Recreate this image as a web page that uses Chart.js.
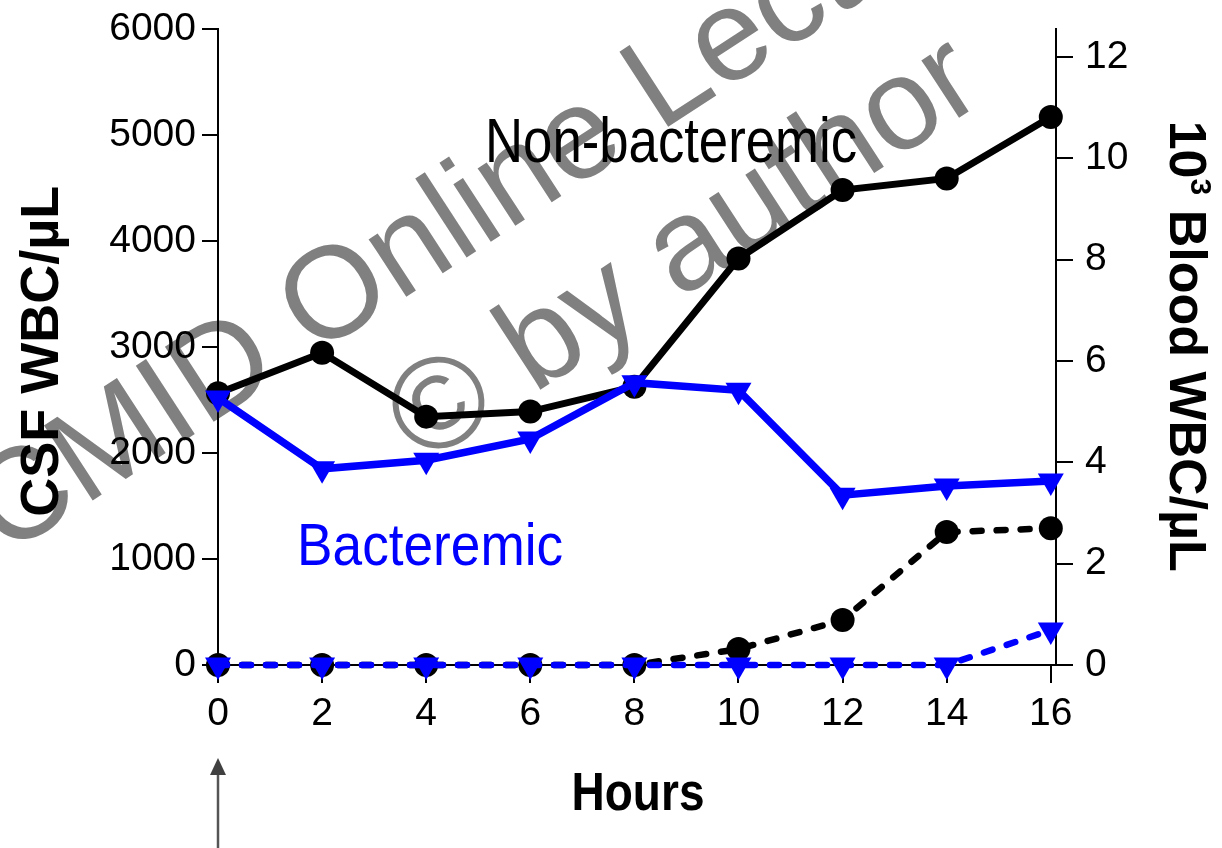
<!DOCTYPE html>
<html><head><meta charset="utf-8">
<script src="https://cdn.jsdelivr.net/npm/chart.js@4/dist/chart.umd.min.js"></script>
<style>html,body{margin:0;padding:0;background:#fff;overflow:hidden}</style>
</head><body>
<canvas id="c" width="1222" height="848" style="display:block;width:1222px;height:848px"></canvas>
<script>
// ---- data ----
const hours = [0, 2, 4, 6, 8, 10, 12, 14, 16];
const bloodNonBacteremic = [5.36, 6.16, 4.90, 5.00, 5.49, 8.02, 9.37, 9.60, 10.81]; // 10^3/µL (right axis)
const bloodBacteremic    = [5.27, 3.87, 4.04, 4.46, 5.57, 5.42, 3.35, 3.53, 3.63];   // 10^3/µL (right axis)
const csfNonBacteremic   = [0, 0, 0, 0, 0, 150, 425, 1255, 1290];                    // /µL (left axis)
const csfBacteremic      = [0, 0, 0, 0, 0, 0, 0, 0, 330];                             // /µL (left axis)
const xTicks = [0, 2, 4, 6, 8, 10, 12, 14, 16];
const csfTicks = [0, 1000, 2000, 3000, 4000, 5000, 6000];
const bloodTicks = [0, 2, 4, 6, 8, 10, 12];
const xTitle = 'Hours';
const leftTitle = 'CSF WBC/µL';
const rightTitleBase = '10', rightTitleSup = '3', rightTitleRest = ' Blood WBC/µL';
const labelNonBact = 'Non-bacteremic';
const labelBact = 'Bacteremic';
const watermark1 = 'ESCMID Online Lecture Library';
const watermark2 = '© by author';

// ---- styling / layout ----
const FONT = '"Liberation Sans", Arial, Helvetica, sans-serif';
const BLUE = '#0000ff';
const pts = arr => hours.map((h, i) => ({ x: h, y: arr[i] }));

function fitted(ctx, text, x, y, width, font, color) {
  ctx.save();
  ctx.font = font; ctx.fillStyle = color;
  ctx.textAlign = 'left'; ctx.textBaseline = 'alphabetic';
  const w = ctx.measureText(text).width;
  ctx.translate(x, y); ctx.scale(width / w, 1);
  ctx.fillText(text, 0, 0);
  ctx.restore();
}

const decor = {
  id: 'decor',
  beforeDraw(chart) {
    const ctx = chart.ctx;
    ctx.save();
    ctx.fillStyle = '#808080';
    ctx.font = '130px ' + FONT;
    ctx.textAlign = 'center'; ctx.textBaseline = 'alphabetic';
    ctx.translate(623, 156);
    ctx.rotate(-33 * Math.PI / 180);
    ctx.fillText(watermark1, 0, 0);
    ctx.fillText(watermark2, 0, 151);
    ctx.restore();
  },
  afterDatasetsDraw(chart) {
    const ctx = chart.ctx, sx = chart.scales.x, sy = chart.scales.y1;
    fitted(ctx, labelNonBact, sx.getPixelForValue(5.13), sy.getPixelForValue(9.92), 372, '63px ' + FONT, '#000');
    fitted(ctx, labelBact, sx.getPixelForValue(1.52), sy.getPixelForValue(1.97), 266, '60px ' + FONT, BLUE);
  },
  afterDraw(chart) {
    const ctx = chart.ctx, ca = chart.chartArea, sx = chart.scales.x;
    const cy = (ca.top + ca.bottom) / 2;
    // left title
    ctx.save();
    ctx.fillStyle = '#000'; ctx.font = 'bold 54px ' + FONT;
    ctx.textAlign = 'center'; ctx.textBaseline = 'alphabetic';
    ctx.translate(58, cy + 4); ctx.rotate(-Math.PI / 2);
    ctx.fillText(leftTitle, 0, 0);
    ctx.restore();
    // right title with superscript
    ctx.save();
    ctx.fillStyle = '#000';
    ctx.textAlign = 'left'; ctx.textBaseline = 'alphabetic';
    ctx.font = 'bold 52px ' + FONT; const w1 = ctx.measureText(rightTitleBase).width;
    const w3 = ctx.measureText(rightTitleRest).width;
    ctx.font = 'bold 30px ' + FONT; const w2 = ctx.measureText(rightTitleSup).width;
    const total = w1 + w2 + w3;
    ctx.translate(1170, cy - 1); ctx.rotate(Math.PI / 2);
    let x = -total / 2;
    ctx.font = 'bold 52px ' + FONT; ctx.fillText(rightTitleBase, x, 0); x += w1;
    ctx.font = 'bold 30px ' + FONT; ctx.fillText(rightTitleSup, x, -21); x += w2;
    ctx.font = 'bold 52px ' + FONT; ctx.fillText(rightTitleRest, x, 0);
    ctx.restore();
    // x title
    const hw = 133;
    fitted(ctx, xTitle, (ca.left + ca.right) / 2 - hw / 2 + 1, 810, hw, 'bold 53px ' + FONT, '#000');
    // arrow at time 0
    const ax = sx.getPixelForValue(0);
    ctx.save();
    ctx.strokeStyle = '#555'; ctx.lineWidth = 2.5;
    ctx.beginPath(); ctx.moveTo(ax, 848); ctx.lineTo(ax, 772); ctx.stroke();
    ctx.fillStyle = '#404040';
    ctx.beginPath(); ctx.moveTo(ax, 758); ctx.lineTo(ax + 8, 775); ctx.lineTo(ax - 8, 775); ctx.closePath(); ctx.fill();
    ctx.restore();
  }
};

const tickFont = { family: FONT, size: 39 };
const rightTickFont = { family: FONT, size: 39, lineHeight: 0.85 };
const lineDefaults = { tension: 0, clip: false, pointBorderWidth: 0 };
const plain = v => String(v);

new Chart(document.getElementById('c'), {
  type: 'line',
  data: {
    datasets: [
      Object.assign({}, lineDefaults, { label: 'Blood, bacteremic', data: pts(bloodBacteremic), yAxisID: 'y1',
        borderColor: BLUE, backgroundColor: BLUE, borderWidth: 7.5, pointStyle: 'triangle', rotation: 180,
        pointRadius: 15, pointHoverRadius: 15, order: 1 }),
      Object.assign({}, lineDefaults, { label: 'CSF, bacteremic', data: pts(csfBacteremic), yAxisID: 'y',
        borderColor: BLUE, backgroundColor: BLUE, borderWidth: 6.5, borderDash: [9, 15], borderCapStyle: 'round',
        pointStyle: 'triangle', rotation: 180, pointRadius: 15, pointHoverRadius: 15, order: 2 }),
      Object.assign({}, lineDefaults, { label: 'Blood, non-bacteremic', data: pts(bloodNonBacteremic), yAxisID: 'y1',
        borderColor: '#000', backgroundColor: '#000', borderWidth: 7, pointStyle: 'circle',
        pointRadius: 12, pointHoverRadius: 12, order: 3 }),
      Object.assign({}, lineDefaults, { label: 'CSF, non-bacteremic', data: pts(csfNonBacteremic), yAxisID: 'y',
        borderColor: '#000', backgroundColor: '#000', borderWidth: 6.5, borderDash: [9, 15], borderCapStyle: 'round',
        pointStyle: 'circle', pointRadius: 12, pointHoverRadius: 12, order: 4 })
    ]
  },
  options: {
    responsive: false, animation: false, events: [],
    layout: { padding: { top: 23, left: 0, right: 0, bottom: 0 } },
    plugins: { legend: { display: false }, tooltip: { enabled: false } },
    scales: {
      x: {
        type: 'linear', min: 0, max: 16.1,
        afterBuildTicks: s => { s.ticks = xTicks.map(v => ({ value: v })); },
        afterFit: s => { s.height = 183; },
        grid: { drawOnChartArea: false, tickLength: 18, color: '#000', lineWidth: 2 },
        border: { color: '#000', width: 2 },
        ticks: { font: tickFont, color: '#000', padding: 8, maxRotation: 0, autoSkip: false, callback: plain }
      },
      y: {
        position: 'left', min: 0, max: 6000,
        afterBuildTicks: s => { s.ticks = csfTicks.map(v => ({ value: v })); },
        afterFit: s => { s.width = 218; },
        grid: { drawOnChartArea: false, tickLength: 16, color: '#000', lineWidth: 2 },
        border: { color: '#000', width: 2 },
        ticks: { font: tickFont, color: '#000', padding: 6, callback: plain }
      },
      y1: {
        position: 'right', min: 0, max: 12.54,
        afterBuildTicks: s => { s.ticks = bloodTicks.map(v => ({ value: v })); },
        afterFit: s => { s.width = 166; },
        grid: { drawOnChartArea: false, tickLength: 17, color: '#000', lineWidth: 2 },
        border: { color: '#000', width: 2 },
        ticks: { font: rightTickFont, color: '#000', padding: 12, callback: plain }
      }
    }
  },
  plugins: [decor]
});
</script>
</body></html>
